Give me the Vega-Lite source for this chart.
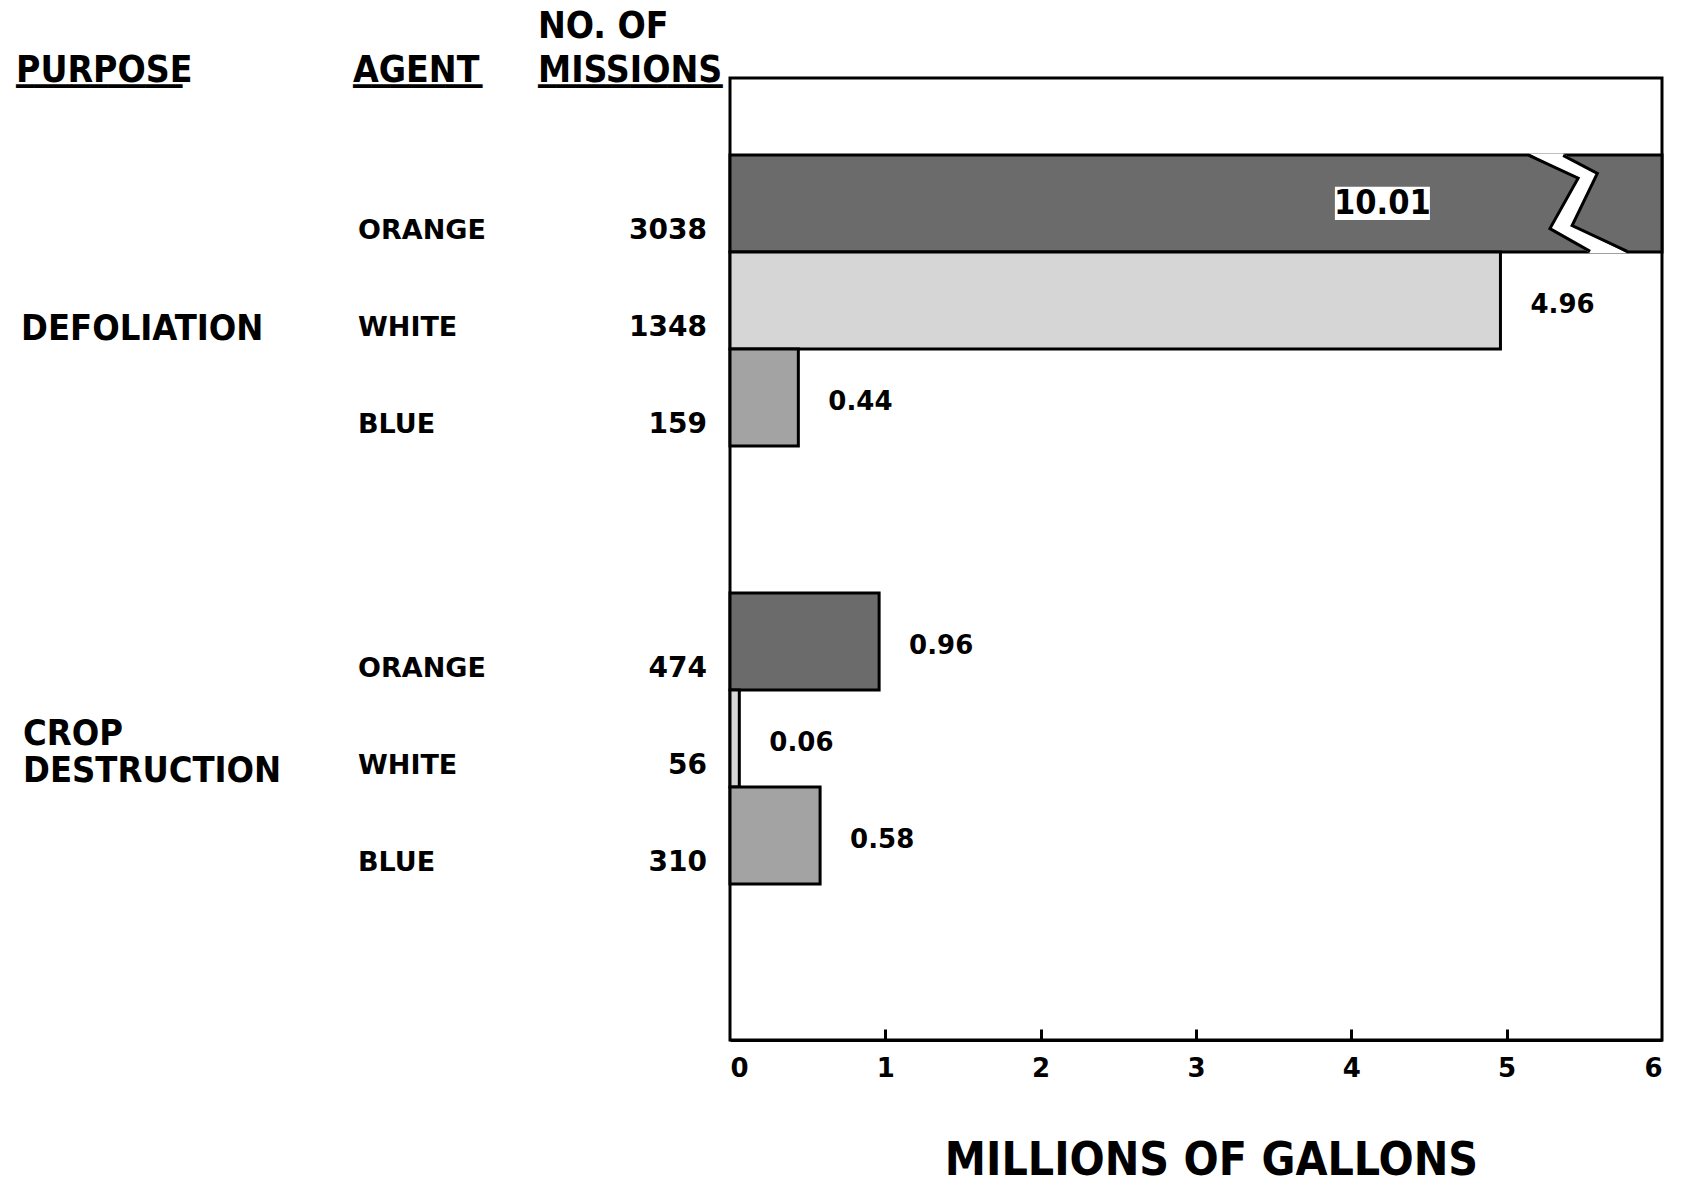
{
  "$schema": "https://vega.github.io/schema/vega-lite/v6.json",
  "background": "white",
  "autosize": {"type": "pad"},
  "padding": {"left": 16, "top": 8, "right": 8, "bottom": 0},
  "config": {
    "view": {"stroke": null},
    "title": {"font": "Liberation Sans Narrow, Arial Narrow, DejaVu Sans Condensed, Liberation Sans, sans-serif", "fontWeight": "bold", "fontSize": 37, "color": "black", "anchor": "start", "baseline": "alphabetic", "offset": -12, "lineHeight": 44,
              "subtitleFont": "DejaVu Sans", "subtitleFontSize": 24, "subtitleColor": "black", "subtitlePadding": -27}
  },
  "data": {
    "values": [
      {"purpose": "DEFOLIATION", "agent": "ORANGE", "missions": 3038, "gallons": 10.01},
      {"purpose": "DEFOLIATION", "agent": "WHITE", "missions": 1348, "gallons": 4.96},
      {"purpose": "DEFOLIATION", "agent": "BLUE", "missions": 159, "gallons": 0.44},
      {"purpose": "CROP DESTRUCTION", "agent": "ORANGE", "missions": 474, "gallons": 0.96},
      {"purpose": "CROP DESTRUCTION", "agent": "WHITE", "missions": 56, "gallons": 0.06},
      {"purpose": "CROP DESTRUCTION", "agent": "BLUE", "missions": 310, "gallons": 0.58}
    ]
  },
  "bounds": "flush",
  "spacing": 0,
  "resolve": {"scale": {"y": "shared", "yOffset": "shared", "x": "independent"}},
  "hconcat": [
    {
      "width": 337,
      "height": 962,
      "title": {"text": "PURPOSE", "subtitle": "▁▁▁▁▁▁▁▁▁"},
      "transform": [{"aggregate": [{"op": "count", "as": "n"}], "groupby": ["purpose"]}],
      "encoding": {
        "x": {"datum": 0, "type": "quantitative", "scale": {"domain": [0, 1]}, "axis": null},
        "y": {"field": "purpose", "type": "nominal", "sort": null, "axis": null,
              "scale": {"domain": ["DEFOLIATION", "CROP DESTRUCTION"], "paddingInner": 0.3356, "paddingOuter": 0.266, "align": 0.33}},
        "text": {"field": "purpose"}
      },
      "layer": [
        {
          "transform": [{"filter": "datum.purpose == 'DEFOLIATION'"}],
          "mark": {"type": "text", "align": "left", "baseline": "middle", "dx": 5, "dy": 29, "font": "Liberation Sans Narrow, Arial Narrow, DejaVu Sans Condensed, Liberation Sans, sans-serif", "fontWeight": "bold", "fontSize": 36, "color": "black"}
        },
        {
          "transform": [{"filter": "datum.purpose != 'DEFOLIATION'"}],
          "mark": {"type": "text", "align": "left", "baseline": "middle", "dx": 7, "dy": -4, "lineBreak": " ", "lineHeight": 37, "font": "Liberation Sans Narrow, Arial Narrow, DejaVu Sans Condensed, Liberation Sans, sans-serif", "fontWeight": "bold", "fontSize": 36, "color": "black"}
        }
      ]
    },
    {
      "width": 185,
      "height": 962,
      "title": {"text": "AGENT", "subtitle": "▁▁▁▁▁▁▁"},
      "mark": {"type": "text", "align": "left", "baseline": "middle", "dx": 5, "dy": 28, "font": "DejaVu Sans", "fontWeight": "bold", "fontSize": 27, "color": "black"},
      "encoding": {
        "x": {"datum": 0, "type": "quantitative", "scale": {"domain": [0, 1]}, "axis": null},
        "y": {"field": "purpose", "type": "nominal", "sort": null, "axis": null},
        "yOffset": {"field": "agent", "type": "nominal", "sort": null, "scale": {"domain": ["ORANGE", "WHITE", "BLUE"], "paddingInner": 0, "paddingOuter": 0}},
        "text": {"field": "agent"}
      }
    },
    {
      "width": 192,
      "height": 962,
      "title": {"text": ["NO. OF", "MISSIONS"], "subtitle": "▁▁▁▁▁▁▁▁▁▁"},
      "mark": {"type": "text", "align": "right", "baseline": "middle", "dx": -23, "dy": 28, "font": "DejaVu Sans", "fontWeight": "bold", "fontSize": 28, "color": "black"},
      "encoding": {
        "x": {"datum": 1, "type": "quantitative", "scale": {"domain": [0, 1]}, "axis": null},
        "y": {"field": "purpose", "type": "nominal", "sort": null, "axis": null},
        "yOffset": {"field": "agent", "type": "nominal", "sort": null},
        "text": {"field": "missions", "type": "quantitative", "format": "d"}
      }
    },
    {
      "width": 932,
      "height": 962,
      "view": {"stroke": "black", "strokeWidth": 3},
      "resolve": {"axis": {"x": "independent"}},
      "encoding": {
        "y": {"field": "purpose", "type": "nominal", "sort": null, "axis": null},
        "yOffset": {"field": "agent", "type": "nominal", "sort": null}
      },
      "layer": [
        {
          "mark": {"type": "bar", "stroke": "black", "strokeWidth": 3},
          "encoding": {
            "x": {"field": "gallons", "type": "quantitative",
                  "scale": {"domain": [0, 6], "clamp": true, "nice": false, "zero": true},
                  "axis": {"orient": "bottom", "title": "MILLIONS OF GALLONS", "values": [0, 1, 2, 3, 4, 5, 6], "format": "d", "grid": false,
                           "domainColor": "black", "domainWidth": 3, "ticks": false, "tickSize": 0,
                           "labelFont": "DejaVu Sans", "labelFontWeight": "bold", "labelFontSize": 26, "labelColor": "black", "labelPadding": 15,
                           "titleFont": "Liberation Sans Narrow, Arial Narrow, DejaVu Sans Condensed, Liberation Sans, sans-serif", "titleFontWeight": "bold", "titleFontSize": 46, "titleColor": "black", "titlePadding": 57, "titleX": 481, "titleAlign": "center"}},
            "color": {"field": "agent", "type": "nominal", "legend": null,
                      "scale": {"domain": ["ORANGE", "WHITE", "BLUE"], "range": ["#6b6b6b", "#d6d6d6", "#a3a3a3"]}}
          }
        },
        {
          "transform": [{"filter": "datum.gallons <= 6"}],
          "mark": {"type": "text", "align": "left", "baseline": "middle", "dx": 30, "dy": 5, "font": "DejaVu Sans", "fontWeight": "bold", "fontSize": 26, "color": "black"},
          "encoding": {
            "x": {"field": "gallons", "type": "quantitative", "axis": null},
            "text": {"field": "gallons", "type": "quantitative", "format": ".2f"}
          }
        },
        {
          "transform": [{"filter": "datum.gallons > 6"}],
          "mark": {"type": "point", "shape": "M -0.82 -0.83 L 0 -0.42 L -0.47 0.42 L 0.2 0.83 L 0.82 0.83 L -0.1 0.37 L 0.32 -0.5 L -0.25 -0.83 Z", "size": 14400, "filled": true, "fill": "white", "strokeWidth": 0, "opacity": 1},
          "encoding": {"x": {"datum": 5.46, "type": "quantitative",
                             "axis": {"orient": "top", "offset": -962, "domain": false, "labels": false, "title": null, "grid": false,
                                      "values": [1, 2, 3, 4, 5], "ticks": true, "tickSize": 11, "tickWidth": 3, "tickColor": "black"}}}
        },
        {
          "transform": [{"filter": "datum.gallons > 6"}],
          "mark": {"type": "point", "shape": "M -0.82 -0.8 L 0 -0.42 L -0.47 0.42 L 0.2 0.8 M -0.25 -0.8 L 0.32 -0.5 L -0.1 0.37 L 0.82 0.8", "size": 14400, "filled": false, "stroke": "black", "strokeWidth": 3, "opacity": 1},
          "encoding": {"x": {"datum": 5.46, "type": "quantitative", "axis": null}}
        },
        {
          "transform": [{"filter": "datum.gallons > 6"}],
          "mark": {"type": "point", "shape": "M -1 -0.35 L 1 -0.35 L 1 0.35 L -1 0.35 Z", "size": 9025, "filled": true, "fill": "white", "strokeWidth": 0, "opacity": 1},
          "encoding": {"x": {"datum": 4.2, "type": "quantitative", "axis": null}}
        },
        {
          "transform": [{"filter": "datum.gallons > 6"}],
          "mark": {"type": "text", "align": "center", "baseline": "middle", "dy": 1, "font": "Liberation Sans Narrow, Arial Narrow, DejaVu Sans Condensed, Liberation Sans, sans-serif", "fontWeight": "bold", "fontSize": 34, "color": "black"},
          "encoding": {
            "x": {"datum": 4.2, "type": "quantitative", "axis": null},
            "text": {"field": "gallons", "type": "quantitative", "format": ".2f"}
          }
        }
      ]
    }
  ]
}
